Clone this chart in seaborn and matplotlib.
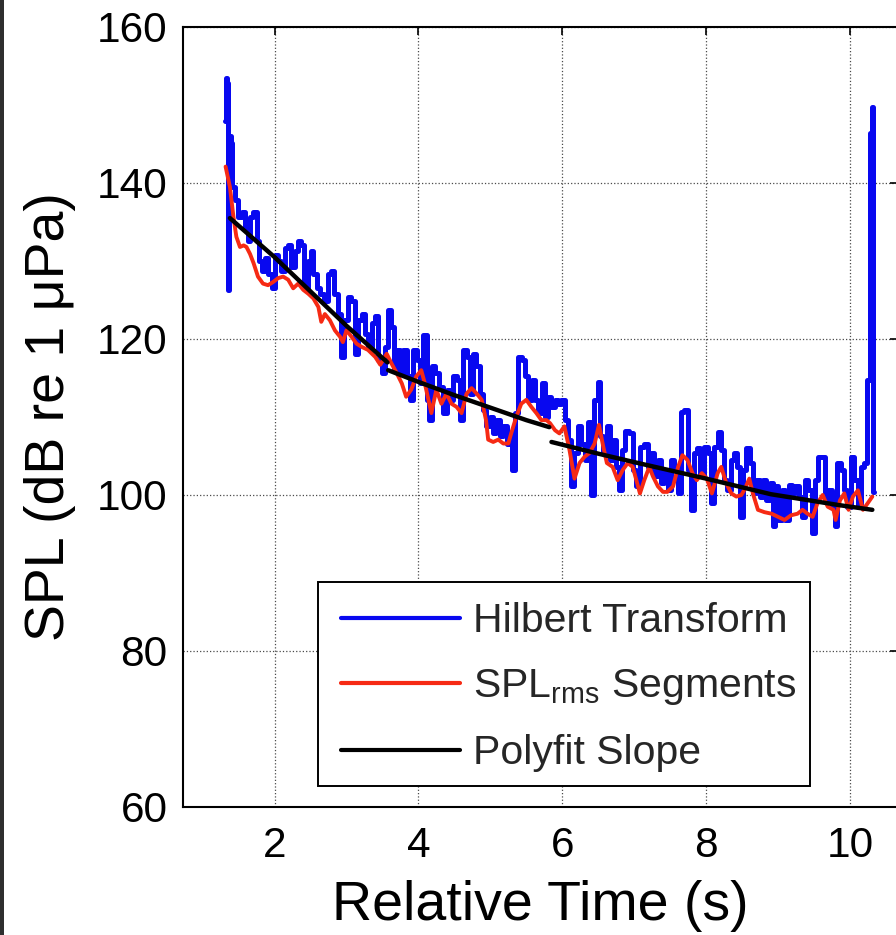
import matplotlib
matplotlib.use("Agg")
import matplotlib.pyplot as plt
from matplotlib.lines import Line2D
from matplotlib.patches import Rectangle
import pandas as pd
import seaborn as sns

# Hilbert-transform envelope (time in s, SPL in dB re 1 uPa)
hilbert_t = [1.31, 1.33, 1.35, 1.36, 1.38, 1.40, 1.43, 1.47, 1.52, 1.57, 1.61, 1.64, 1.68, 1.73,
             1.77, 1.80, 1.84, 1.89, 1.94, 1.98, 2.03, 2.07, 2.12, 2.17, 2.21, 2.26, 2.31, 2.35,
             2.40, 2.43, 2.49, 2.52, 2.56, 2.61, 2.65, 2.72, 2.77, 2.81, 2.85, 2.91, 2.95, 2.99,
             3.05, 3.09, 3.14, 3.19, 3.23, 3.28, 3.33, 3.37, 3.42, 3.47,
             3.51, 3.56, 3.60, 3.64, 3.67, 3.72, 3.77, 3.81, 3.86, 3.90, 3.95, 4.00, 4.04, 4.09,
             4.14, 4.16, 4.21, 4.26, 4.32, 4.37, 4.42, 4.46, 4.51, 4.55, 4.60, 4.65, 4.69, 4.74,
             4.78, 4.83, 4.88, 4.92, 4.97, 5.02, 5.06, 5.11, 5.16, 5.20, 5.25, 5.29, 5.32, 5.36,
             5.41, 5.46, 5.50, 5.55, 5.60, 5.64, 5.69, 5.74, 5.78,
             5.83, 5.87, 5.92, 5.96, 6.01, 6.06, 6.10, 6.15, 6.19, 6.24, 6.29, 6.33, 6.38, 6.42,
             6.47, 6.51, 6.54, 6.59, 6.64, 6.68, 6.73, 6.77, 6.81, 6.85, 6.90, 6.96, 7.01, 7.05,
             7.10, 7.17, 7.21, 7.26, 7.30, 7.35, 7.40, 7.44, 7.49, 7.54, 7.58, 7.63, 7.67, 7.72,
             7.77, 7.81, 7.85, 7.90, 7.94, 8.00, 8.04,
             8.09, 8.14, 8.18, 8.23, 8.27, 8.32, 8.37, 8.41, 8.46, 8.49, 8.54, 8.58, 8.63, 8.68,
             8.72, 8.77, 8.81, 8.86, 8.91, 8.94, 8.98, 9.03, 9.08, 9.12, 9.17, 9.21, 9.26, 9.31,
             9.35, 9.40, 9.44, 9.49, 9.54, 9.58, 9.63, 9.67, 9.72, 9.77, 9.80, 9.85, 9.90, 9.94,
             9.99, 10.04, 10.08, 10.13, 10.18, 10.22, 10.26, 10.29, 10.31, 10.33]
hilbert_spl = [148.0, 153.4, 152.8, 126.3, 146.0, 145.1, 139.5, 137.8, 135.6, 136.3, 134.3, 132.6, 135.6, 136.3,
               132.6, 130.0, 128.7, 130.4, 128.3, 126.6, 130.8, 130.0, 128.7, 131.7, 132.1, 129.2, 131.3, 132.6,
               132.1, 126.6, 130.0, 131.3, 128.3, 126.6, 125.8, 124.9, 128.3, 128.7, 125.8, 123.2, 117.7, 122.4,
               125.4, 124.9, 118.1, 122.4, 123.2, 120.7, 119.0, 122.0, 123.0, 117.3,
               115.6, 119.0, 123.7, 121.6, 116.0, 118.6, 115.6, 118.6, 115.2, 112.2, 118.6, 117.3, 114.3, 120.5,
               112.2, 109.6, 116.5, 115.6, 113.9, 110.5, 113.5, 112.2, 115.2, 114.7, 109.6, 118.6, 117.7, 113.0,
               118.1, 116.5, 113.0, 110.9, 108.8, 110.0, 107.9, 109.6, 107.5, 108.8, 106.6, 107.5, 103.2, 110.5,
               117.7, 117.3, 115.2, 112.2, 114.7, 112.2, 110.5, 114.3, 110.0,
               112.6, 111.3, 112.2, 111.7, 112.2, 109.6, 107.0, 101.1, 105.4, 108.8, 106.6, 104.5, 109.4, 100.0,
               112.2, 114.5, 107.5, 105.4, 108.8, 104.5, 107.0, 103.6, 100.6, 105.8, 108.2, 107.9, 103.2, 101.1,
               106.2, 106.6, 103.6, 105.4, 102.4, 104.5, 101.5, 103.2, 100.6, 104.5, 103.2, 100.2, 110.7, 110.9,
               103.2, 98.1, 105.4, 106.0, 102.4, 106.2, 105.4,
               99.0, 106.2, 108.1, 105.8, 101.9, 100.6, 104.5, 105.4, 103.6, 97.2, 103.2, 106.0, 104.1, 100.2,
               101.9, 99.8, 101.9, 99.3, 101.5, 96.0, 101.1, 96.8, 100.6, 96.8, 101.3, 100.2, 101.1, 99.8,
               97.2, 101.9, 100.6, 95.1, 101.9, 104.9, 104.9, 99.3, 100.6, 98.5, 96.0, 104.1, 103.2, 100.6,
               98.5, 104.9, 101.9, 98.5, 103.6, 104.1, 114.8, 146.4, 149.8, 100.4]

# Segment-wise RMS sound pressure level
rms_t = [1.32, 1.38, 1.43, 1.47, 1.52, 1.57, 1.61, 1.66, 1.71, 1.77, 1.84, 1.91, 1.98, 2.05,
         2.12, 2.19, 2.26, 2.33, 2.40, 2.47, 2.54, 2.61, 2.65, 2.70, 2.77, 2.84, 2.91, 2.95,
         3.00, 3.07, 3.14, 3.21, 3.30, 3.40, 3.47,
         3.56, 3.63, 3.70, 3.77, 3.83, 3.90, 3.97, 4.04, 4.09, 4.14, 4.18, 4.25, 4.32, 4.39,
         4.46, 4.53, 4.60, 4.67, 4.74, 4.81, 4.88, 4.94, 4.97, 5.04, 5.11, 5.18, 5.25, 5.29,
         5.36, 5.43, 5.50, 5.57, 5.64, 5.71, 5.78,
         5.83, 5.90, 5.96, 6.03, 6.10, 6.17, 6.24, 6.31, 6.38, 6.45, 6.51, 6.57, 6.62, 6.70,
         6.77, 6.84, 6.91, 6.98, 7.03, 7.08, 7.14, 7.21, 7.26, 7.33, 7.40, 7.46, 7.54, 7.61,
         7.67, 7.74, 7.81, 7.87, 7.94, 8.01,
         8.08, 8.16, 8.21, 8.28, 8.35, 8.42, 8.49, 8.54, 8.60, 8.65, 8.72, 8.81, 8.91, 9.00,
         9.09, 9.18, 9.27, 9.34, 9.41, 9.48, 9.55, 9.62, 9.69, 9.77, 9.80, 9.86, 9.92, 9.98,
         10.04, 10.11, 10.18, 10.25, 10.31]
rms_spl = [142.1, 139.5, 135.6, 133.1, 131.8, 132.0, 131.8, 130.9, 129.7, 128.0, 127.1, 126.9, 127.3, 127.8,
           128.0, 127.6, 126.5, 127.1, 126.3, 125.8, 125.2, 124.1, 122.2, 123.2, 122.4, 121.1, 120.3, 119.6,
           121.1, 120.3, 119.4, 119.0, 118.6, 117.7, 116.7,
           118.1, 116.8, 115.6, 114.3, 112.6, 113.5, 115.2, 116.0, 114.3, 112.2, 110.5, 113.5, 111.7, 113.0,
           111.7, 111.3, 110.5, 113.0, 113.7, 113.0, 112.2, 109.6, 107.1, 106.8, 107.1, 106.6, 106.6, 107.9,
           110.0, 111.7, 112.2, 111.3, 110.5, 109.6, 109.6,
           109.2, 108.3, 107.9, 108.8, 105.8, 102.1, 104.1, 104.9, 105.4, 106.6, 109.0, 106.2, 104.1, 103.6,
           101.9, 103.2, 104.1, 103.6, 101.9, 100.2, 101.9, 103.6, 102.4, 101.1, 100.4, 100.4, 101.1, 103.6,
           105.1, 104.5, 102.8, 101.9, 102.8, 102.1,
           100.2, 102.8, 103.6, 101.5, 100.2, 99.8, 100.0, 100.8, 102.1, 100.2, 98.1, 97.8, 97.6, 97.2,
           96.8, 97.4, 97.6, 98.1, 97.6, 97.2, 99.0, 100.0, 98.5, 98.1, 96.8, 99.3, 100.2, 98.1,
           99.8, 100.6, 98.1, 99.0, 99.8]

# Piecewise polynomial fits of the decay
fit_segment = [1, 1, 1, 1, 1, 2, 2, 2, 2, 2, 2, 3, 3, 3, 3, 3, 3, 3]
fit_t = [1.38, 2.00, 2.50, 3.00, 3.57,
         3.58, 4.00, 4.50, 5.00, 5.50, 5.82,
         5.85, 6.50, 7.10, 8.00, 8.90, 9.85, 10.31]
fit_spl = [135.5, 130.5, 126.1, 121.7, 117.0,
           116.0, 114.5, 112.8, 111.2, 109.6, 108.7,
           106.8, 105.3, 104.0, 102.1, 100.1, 98.7, 98.1]

x_ticks = [2, 4, 6, 8, 10]
y_ticks = [60, 80, 100, 120, 140, 160]
legend_labels = ["Hilbert Transform", "SPL$_{rms}$ Segments", "Polyfit Slope"]
x_label = "Relative Time (s)"
y_label = "SPL (dB re 1 \u03bcPa)"

BLUE = "#0808f0"
RED = "#f62a14"
BLACK = "#000000"

sns.set_theme(style="white")
plt.rcParams["font.family"] = ["Liberation Sans", "DejaVu Sans"]
plt.rcParams["mathtext.default"] = "regular"

W, H = 896, 935
fig = plt.figure(figsize=(W / 100, H / 100), dpi=100)
fig.patch.set_facecolor("white")
ax = fig.add_axes([183 / W, 128 / H, 715 / W, 780 / H])
ax.set_facecolor("white")

hilbert_df = pd.DataFrame({"t": hilbert_t, "spl": hilbert_spl})
rms_df = pd.DataFrame({"t": rms_t, "spl": rms_spl})
fit_df = pd.DataFrame({"t": fit_t, "spl": fit_spl, "segment": fit_segment})

sns.lineplot(data=hilbert_df, x="t", y="spl", ax=ax, color=BLUE, linewidth=3.6,
             estimator=None, sort=False, legend=False, drawstyle="steps-mid")
sns.lineplot(data=rms_df, x="t", y="spl", ax=ax, color=RED, linewidth=2.8,
             estimator=None, sort=False, legend=False)
sns.lineplot(data=fit_df, x="t", y="spl", units="segment", ax=ax, color=BLACK,
             linewidth=3.2, estimator=None, sort=False, legend=False)

ax.set_xlim(0.728, 10.667)
ax.set_ylim(60, 160)
ax.set_xticks(x_ticks)
ax.set_yticks(y_ticks)
ax.grid(True, linestyle=":", color="#4a4a4a", linewidth=0.9)
ax.set_axisbelow(True)

for side in ["left", "right", "top", "bottom"]:
    ax.spines[side].set_visible(True)
    ax.spines[side].set_color("black")
    ax.spines[side].set_linewidth(1.5)

ax.tick_params(axis="both", which="major", direction="in", length=6, width=1.2,
               colors="black", labelsize=30.5, top=True, right=True)
ax.tick_params(axis="x", pad=14)
ax.tick_params(axis="y", pad=11)

ax.set_xlabel(x_label, fontsize=40, labelpad=10, color="black")
ax.set_ylabel(y_label, fontsize=40, labelpad=15, color="black")

# legend box: white panel with a thin black border, entries laid on top
ax.add_patch(Rectangle((0.1888, 0.0269), 0.6881, 0.2616, transform=ax.transAxes,
                       facecolor="white", edgecolor="black", linewidth=1.4, zorder=4))
handles = [Line2D([], [], color=BLUE, linewidth=3.0),
           Line2D([], [], color=RED, linewidth=3.0),
           Line2D([], [], color=BLACK, linewidth=3.0)]
leg = ax.legend(handles, legend_labels, loc="lower left",
                bbox_to_anchor=(0.189, 0.0155), borderaxespad=0,
                fontsize=29.5, handlelength=2.9, handletextpad=0.32,
                labelspacing=0.66, borderpad=0.56, frameon=False)
leg.set_zorder(5)

# dark strip along the left edge of the canvas
fig.patches.append(Rectangle((0, 0), 4 / W, 1, transform=fig.transFigure,
                             facecolor="#2e2e2e", edgecolor="none", zorder=10))

fig.savefig("out.png", dpi=100, facecolor="white")
